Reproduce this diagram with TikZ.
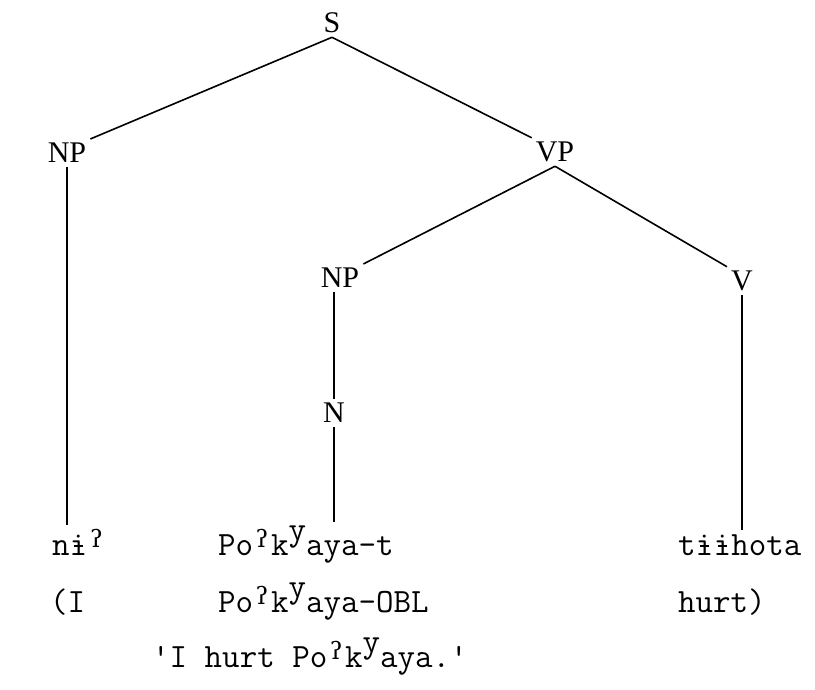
\documentclass[tikz,border=0pt]{standalone}
\usepackage{fontspec}
\setmainfont{Liberation Serif}
\newfontfamily\ipafont{DejaVu Serif}
\usetikzlibrary{positioning}

% typewriter spellings: glottal stop small and raised, barred i overtyped, palatal y high
\newcommand{\glot}{\makebox[0.525em]{\raisebox{0.5ex}{\ipafont\fontsize{24}{24}\selectfont ʔ}}}
\newcommand{\bari}{\rlap{i}\makebox[0.525em]{\rule[0.24em]{0.26em}{0.06em}}}
\newcommand{\pal}{\raisebox{0.42em}{y}}

\begin{document}
\begin{tikzpicture}[x=1pt,y=-1pt,
    cat/.style={font=\fontsize{30}{30}\selectfont, inner sep=4pt},
    word/.style={font=\ttfamily\fontsize{34}{34}\selectfont, anchor=base west, inner sep=4pt},
    branch/.style={line width=1.6pt}]
  \useasboundingbox (0,0) rectangle (815,690);

  \node[cat] (s) at (332,23) {S};
  \node[cat] (np1) at (67,153) {NP};
  \node[cat] (vp) at (555,152) {VP};
  \node[cat] (np2) at (340,278) {NP};
  \node[cat] (n) at (334,413) {N};
  \node[cat] (v) at (742,281) {V};

  \node[word] (ni) at (48,555) {n\bari\glot};
  \node[word] (pok) at (214,555) {Po\glot k\pal aya-t};
  \node[word] (tii) at (674,555) {t\bari\bari hota};

  \node[word] (gl1) at (46,612) {(I};
  \node[word] (gl2) at (214,612) {Po\glot k\pal aya-OBL};
  \node[word] (gl3) at (674,612) {hurt)};

  \node[word] (trans) at (148,667) {'I hurt Po\glot k\pal aya.'};

  \draw[branch] (s.south) -- (np1.north east);
  \draw[branch] (s.south) -- (vp.north west);
  \draw[branch] (vp.south) -- (np2.north east);
  \draw[branch] (vp.south) -- (v.north west);
  \draw[branch] (np1.south) -- (np1.south |- ni.north);
  \draw[branch] (n.north) -- (n.north |- np2.south);
  \draw[branch] (n.south) -- (n.south |- pok.north);
  \draw[branch] (v.south) -- (v.south |- tii.north);
\end{tikzpicture}
\end{document}
